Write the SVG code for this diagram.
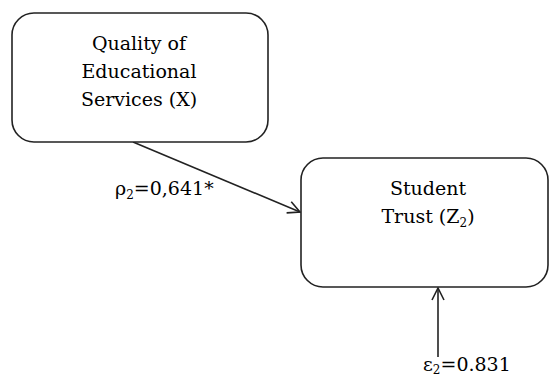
<svg xmlns="http://www.w3.org/2000/svg" width="550" height="376" viewBox="0 0 550 376">
<style>
.box{fill:#fff;stroke:#222;stroke-width:1.6}
text{font-family:'DejaVu Serif','Liberation Serif',serif;font-size:19px;fill:#000}
.t{text-anchor:middle}
.sub{font-size:12px}
.c{stroke:#222;stroke-width:1.6;fill:none}
</style>
<defs>
<marker id="arr" markerWidth="16" markerHeight="16" refX="14" refY="8" orient="auto" markerUnits="userSpaceOnUse">
<path d="M2,2 L14,8 L2,14" fill="none" stroke="#222" stroke-width="1.6"/>
</marker>
</defs>
<rect width="550" height="376" fill="#fff"/>
<g id="connectors">
<line class="c" x1="133" y1="142" x2="300" y2="212" marker-end="url(#arr)"/>
<line class="c" x1="438" y1="357" x2="438" y2="288" marker-end="url(#arr)"/>
</g>
<g id="nodeX">
<rect class="box" x="12" y="13" width="256" height="129" rx="22"/>
<text class="t" x="139" y="50">Quality of</text>
<text class="t" x="139" y="78">Educational</text>
<text class="t" x="139" y="106">Services (X)</text>
</g>
<g id="nodeZ">
<rect class="box" x="301" y="158" width="247" height="129" rx="22"/>
<text class="t" x="428" y="195">Student</text>
<text class="t" x="428" y="223">Trust (Z<tspan class="sub" dy="4">2</tspan><tspan dy="-4">)</tspan></text>
</g>
<g id="labels">
<text x="115" y="195">ρ<tspan class="sub" dy="4">2</tspan><tspan dy="-4">=0,641*</tspan></text>
<text x="423" y="371">ε<tspan class="sub" dy="3">2</tspan><tspan dy="-3">=0.831</tspan></text>
</g>
</svg>
